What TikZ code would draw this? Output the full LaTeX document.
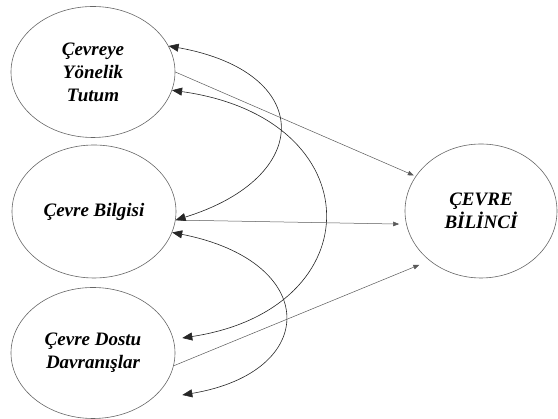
\documentclass[tikz,border=0pt]{standalone}
\usepackage{fontspec}
\setmainfont{Liberation Serif}
\usetikzlibrary{shapes.geometric, arrows.meta}

\begin{document}
\begin{tikzpicture}[x=1pt, y=1pt,
    factor/.style={ellipse, draw=black!60, line width=0.6pt, minimum width=164pt, minimum height=131pt, inner sep=0pt, align=center, font=\fontsize{19}{23}\selectfont\bfseries\itshape},
    total/.style={factor, minimum width=152pt, minimum height=134pt},
    link/.style={-{Triangle[length=6pt, width=4.5pt]}, draw=black!65, line width=0.5pt},
    corr/.style={{Triangle[length=10pt, width=8pt]}-{Triangle[length=10pt, width=8pt]}, draw=black!85, line width=0.6pt}
]
\useasboundingbox (0,0) rectangle (558,419);

% Factors (left side)
\node[factor] (tutum) at (93,347) {Çevreye\\Yönelik\\Tutum};
\node[factor, minimum height=133pt] (bilgi) at (94,207.5) {Çevre Bilgisi};
\node[factor] (davranis) at (93,66) {Çevre Dostu\\Davranışlar};

% Environmental awareness
\node[total] (bilinc) at (481,208) {ÇEVRE\\BİLİNCİ};

% Paths to awareness
\draw[link, shorten >=2pt] (tutum.east) -- (bilinc.152);
\draw[link, shorten >=7pt] (bilgi.-6) -- (bilinc.190);
\draw[link, shorten >=11pt] (davranis.-9) -- (bilinc.224);

% Correlations between factors
\draw[corr] (tutum.19) .. controls +(146,-26) and +(139,43) .. (bilgi.-6);
\draw[corr] (tutum.-13) .. controls +(201,-28) and +(191,29) .. ([shift={(7,15)}]davranis.east);
\draw[corr] (bilgi.-15) .. controls +(148,-29) and +(138,23) .. ([shift={(7,-42)}]davranis.east);

\end{tikzpicture}
\end{document}
